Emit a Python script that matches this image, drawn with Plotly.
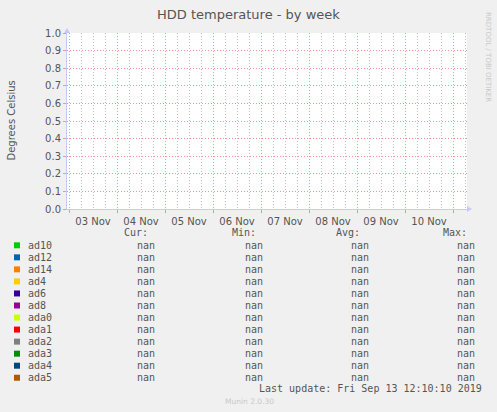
import pandas as pd
import plotly.graph_objects as go

# munin week graph: 400 px wide, 200 hours, all values unknown
time_range = ["2019-11-02 23:00", "2019-11-11 07:00"]
series = ["ad10", "ad12", "ad14", "ad4", "ad6", "ad8",
          "ada0", "ada1", "ada2", "ada3", "ada4", "ada5"]
colors = ["#00CC00", "#0066B3", "#FF8000", "#FFCC00", "#330099", "#990099",
          "#CCFF00", "#FF0000", "#808080", "#008F00", "#00487D", "#B35A00"]
values = [[None, None] for _ in series]
cur = ["nan"] * 12
vmin = ["nan"] * 12
vavg = ["nan"] * 12
vmax = ["nan"] * 12
last_update = "Last update: Fri Sep 13 12:10:10 2019"

W, H = 497, 412
L, R, T, B = 67, 467, 33, 209
TXT = "#555555"
MONO = "DejaVu Sans Mono"


def px(x):
    return (x - L) / (R - L)


def py(y):
    return (B - y) / (B - T)


def label(text, x, y, xa="center", size=10, family=MONO, color=TXT, angle=0):
    return dict(text=text, x=px(x), y=py(y), xref="paper", yref="paper",
                xanchor=xa, yanchor="middle", textangle=angle, showarrow=False,
                font=dict(family=family, size=size, color=color))


fig = go.Figure()
for name, col, ys in zip(series, colors, values):
    fig.add_trace(go.Scatter(x=time_range, y=ys, name=name, mode="lines",
                             line=dict(color=col, width=1), showlegend=False))

# 6-hour minor grid, skipping midnights (those get the red major line)
six_h = pd.date_range("2019-11-02 06:00", "2019-11-11 06:00", freq="6h")
minor_vals = [t.strftime("%Y-%m-%d %H:%M") for t in six_h if t.hour != 0]

grid_red = "rgb(240,150,150)"
fig.update_xaxes(
    type="date", range=time_range, dtick=86400000, tick0="2019-11-03",
    tickformat="%d %b", ticklabelmode="period",
    showgrid=True, gridcolor=grid_red, griddash="1px,2px", gridwidth=1,
    ticks="outside", ticklen=3, tickcolor=grid_red,
    minor=dict(tickmode="array", tickvals=minor_vals, showgrid=True,
               gridcolor="rgb(190,190,190)", griddash="1px,2px", gridwidth=1),
    showline=True, linecolor="#c8c8ff", linewidth=1, zeroline=False,
    tickfont=dict(family="DejaVu Sans", size=10, color=TXT),
)
fig.update_yaxes(
    range=[0, 1.0], dtick=0.1, tickformat=".1f",
    showgrid=True, gridcolor=grid_red, griddash="1px,2px", gridwidth=1,
    ticks="outside", ticklen=3, tickcolor=grid_red,
    showline=True, linecolor="#c8c8ff", linewidth=1, zeroline=False,
    tickfont=dict(family="DejaVu Sans", size=10, color=TXT),
)

ann = []
shapes = []
ann.append(label("HDD temperature - by week", 248, 14, size=13, family="DejaVu Sans"))
ann.append(label("Degrees Celsius", 10.5, 121, family="DejaVu Sans", angle=-90))
ann.append(label("RRDTOOL / TOBI OETIKER", 488, 57, size=7, family="DejaVu Sans",
                 color="#c8c8c8", angle=90))

# legend table
hdr_y = 233
cols = [(150, 157, "Cur:", cur), (258, 265, "Min:", vmin),
        (362, 371, "Avg:", vavg), (469, 477, "Max:", vmax)]
for hx, vx, head, vals in cols:
    ann.append(label(head, hx, hdr_y, xa="right"))
for i, (name, col) in enumerate(zip(series, colors)):
    ry = 245.3 + i * 12.04
    shapes.append(dict(type="rect", xref="paper", yref="paper", x0=px(14), x1=px(20),
                       y0=py(ry - 3), y1=py(ry + 3), fillcolor=col, line=dict(width=0)))
    ann.append(label(name, 26, ry, xa="left"))
    for hx, vx, head, vals in cols:
        ann.append(label(vals[i], vx, ry, xa="right"))
ann.append(label(last_update, 484, 389, xa="right"))
ann.append(label("Munin 2.0.30", 249, 401, size=7.5, family="DejaVu Sans", color="#c8c8c8"))

# axis arrows
shapes.append(dict(type="path", xref="paper", yref="paper", line=dict(width=0), fillcolor="#c8c8ff",
                   path=f"M {px(467)},{py(206)} L {px(472)},{py(209)} L {px(467)},{py(212)} Z"))
shapes.append(dict(type="path", xref="paper", yref="paper", line=dict(width=0), fillcolor="#c8c8ff",
                   path=f"M {px(64)},{py(33)} L {px(67)},{py(28)} L {px(70)},{py(33)} Z"))

fig.update_layout(
    width=W, height=H, margin=dict(l=L, r=W - R, t=T, b=H - B),
    paper_bgcolor="#F0F0F0", plot_bgcolor="#FFFFFF",
    annotations=ann, shapes=shapes, showlegend=False,
)
fig.write_html("out.html", config={"displayModeBar": False},
               post_script="document.body.style.margin='0';")
